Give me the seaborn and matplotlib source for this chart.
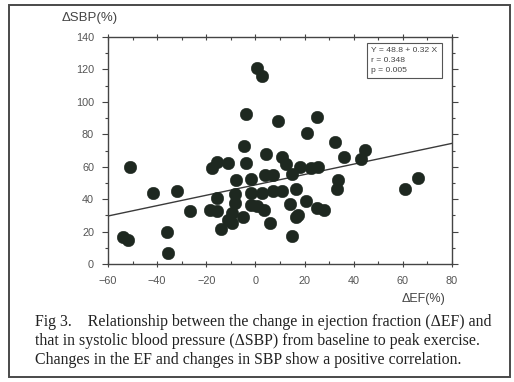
import matplotlib
matplotlib.use("Agg")
import matplotlib.pyplot as plt
import seaborn as sns
import numpy as np
import pandas as pd
from matplotlib.ticker import MultipleLocator
from matplotlib.patches import Rectangle

# ---- data ----
delta_ef = [0.5, 2.5, -4, 9, -4.5, 4.5, -51, -15.5, -17.5, -11, -4, -8, -2, 4, 7,
            -41.5, -32, -15.5, -8.5, -2, 2.5, 7, -8.5, -2, 0.5, 3.5, -26.5, -18.5,
            -15.5, -9.5, -5, -11, -9.5, 6, -14, -54, -52, -36, -35.5,
            25, 21, 32.5, 36, 44.5, 43, 11, 12.5, 18, 22.5, 25.5, 15, 33.5, 33,
            61, 66, 11, 16.5, 20.5, 14, 25, 28, 17.5, 16.5, 15]
delta_sbp = [121, 116, 92.5, 88, 72.5, 68, 60, 63, 59, 62, 62, 51.5, 52.5, 55, 55,
             44, 45, 40.5, 43, 44, 43.5, 45, 37.5, 36.5, 35.5, 33.5, 32.5, 33.5,
             32.5, 31.5, 29, 27, 25.5, 25, 21.5, 16.5, 14.5, 20, 6.5,
             90.5, 81, 75, 66, 70.5, 64.5, 66, 61.5, 60, 59, 60, 55.5, 51.5, 46.5,
             46, 53, 45, 46, 39, 37, 34.5, 33.5, 30, 29, 17.5]
intercept = 48.8
slope = 0.32
stats_lines = ["Y = 48.8 + 0.32 X", "r = 0.348", "p = 0.005"]
x_ticks = [-60, -40, -20, 0, 20, 40, 60, 80]
y_ticks = [0, 20, 40, 60, 80, 100, 120, 140]
x_label = "ΔEF(%)"
y_label = "ΔSBP(%)"
caption = ["Fig 3.    Relationship between the change in ejection fraction (ΔEF) and",
           "that in systolic blood pressure (ΔSBP) from baseline to peak exercise.",
           "Changes in the EF and changes in SBP show a positive correlation."]

df = pd.DataFrame({"ef": delta_ef, "sbp": delta_sbp})

sns.set_theme(style="white")
plt.rcParams["font.family"] = ["Liberation Sans", "DejaVu Sans"]

fig = plt.figure(figsize=(5.14, 3.82), dpi=100)
fig.patch.set_facecolor("white")
ax = fig.add_axes([108/514, 1-264/382, (452-108)/514, (264-37)/382])

sns.scatterplot(data=df, x="ef", y="sbp", ax=ax, s=82, color="#1e2820",
                edgecolor="#1e2820", linewidth=0.3, zorder=3, legend=False)

ax.set_xlim(x_ticks[0], x_ticks[-1])
ax.set_ylim(y_ticks[0], y_ticks[-1])
xs = np.array(ax.get_xlim())
ax.plot(xs, intercept + slope * xs, color="#3a3a3a", lw=1.0, zorder=2)

ax.set_xticks(x_ticks)
ax.set_yticks(y_ticks)
ax.xaxis.set_minor_locator(MultipleLocator(10))
ax.yaxis.set_minor_locator(MultipleLocator(10))
ax.set_xlabel("")
ax.set_ylabel("")
for sp in ax.spines.values():
    sp.set_color("#444444")
    sp.set_linewidth(1.0)
ax.tick_params(axis="both", which="both", colors="#444444", labelcolor="#555555",
               labelsize=7.8, width=0.8)
ax.tick_params(axis="y", which="major", direction="out", length=4, left=True, right=True, pad=6)
ax.tick_params(axis="y", which="minor", direction="out", length=2.5, left=True, right=True)
ax.tick_params(axis="x", which="major", direction="inout", length=5, bottom=True, top=True)
ax.tick_params(axis="x", which="minor", direction="in", length=2.5, bottom=True, top=True)
ax.tick_params(axis="x", which="both", pad=6)

fig.text(90/514, 1-18/382, y_label, ha="center", va="center", fontsize=9.5, color="#444444")
fig.text(423/514, 1-299/382, x_label, ha="center", va="center", fontsize=9, color="#444444")

# stats box
ax.text(0.765, 0.955, "\n".join(stats_lines), transform=ax.transAxes, ha="left", va="top",
        fontsize=6.1, color="#444444", linespacing=1.55,
        bbox=dict(boxstyle="square,pad=0.55", fc="white", ec="#555555", lw=0.8))

# caption
for i, line in enumerate(caption):
    fig.text(35/514, 1-(322 + 19*i)/382, line, ha="left", va="center",
             fontsize=11.4, color="#222222", family=["Liberation Serif", "DejaVu Serif"])

# outer frame
fig.patches.append(Rectangle((9/514, 5/382), (510-9)/514, (377-5)/382,
                             transform=fig.transFigure, fill=False, ec="#4a4a4a", lw=1.4))

fig.savefig("out.png", dpi=100)
